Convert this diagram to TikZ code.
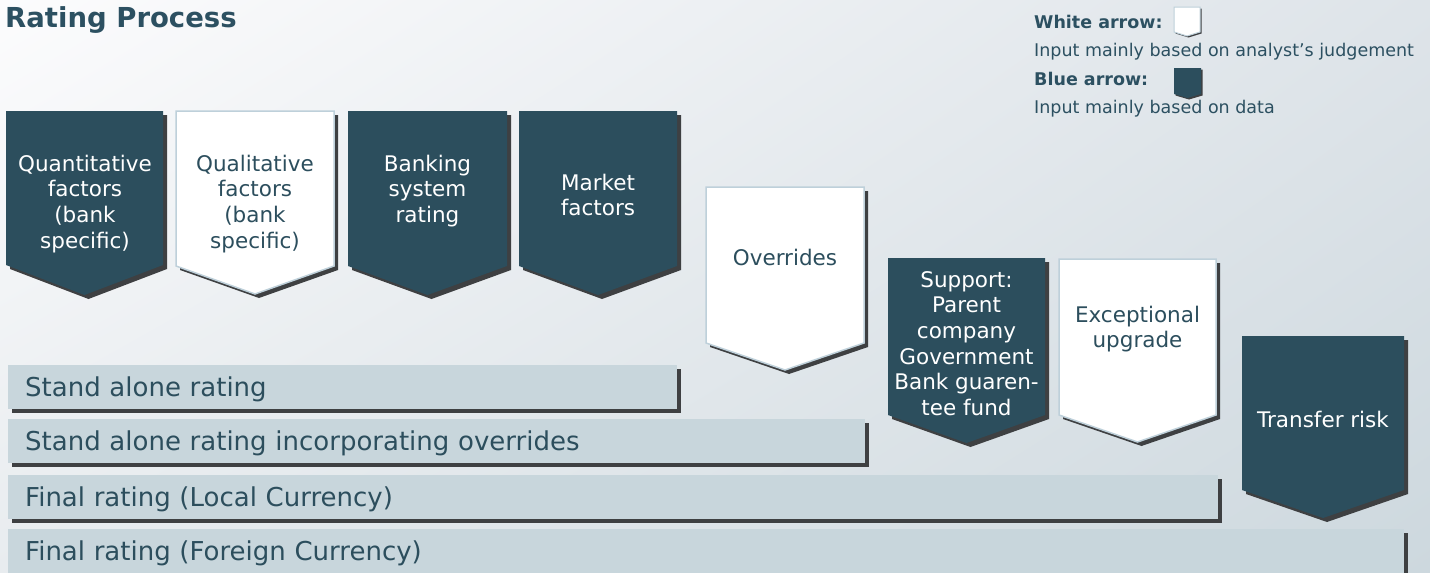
\documentclass[tikz,border=0pt]{standalone}
\usepackage{fontspec}
\setmainfont{DejaVu Sans}
\usetikzlibrary{shadows,shadings}

\definecolor{petrol}{RGB}{44,78,93}
\definecolor{petroltext}{RGB}{44,80,97}
\definecolor{edgeblue}{RGB}{190,208,218}
\definecolor{barfill}{RGB}{200,214,220}
\definecolor{shadowgrey}{RGB}{62,64,66}
\definecolor{bgtl}{RGB}{252,252,253}
\definecolor{bgtr}{RGB}{222,228,233}
\definecolor{bgbl}{RGB}{232,236,239}
\definecolor{bgbr}{RGB}{205,216,222}

\tikzset{
  castshadow/.style = {drop shadow={shadow xshift=#1, shadow yshift=-#1, opacity=1, fill=shadowgrey}},
  castshadow/.default = 4pt,
  bluearrow/.style = {fill=petrol},
  whitearrow/.style = {fill=white, draw=edgeblue, line width=1.5pt},
  arrowtext/.style = {anchor=base, inner sep=0pt, font=\fontsize{21.5}{25.7}\selectfont},
  ratingbar/.style = {anchor=north west, fill=barfill, castshadow, minimum height=44pt,
    inner xsep=17pt, inner ysep=0pt, text width=#1, align=left, text height=20pt,
    text depth=1pt, text=petrol, font=\fontsize{26}{31}\selectfont},
  legendtext/.style = {anchor=base west, inner sep=0pt, text=petroltext, font=\fontsize{17.5}{21}\selectfont},
  legendhead/.style = {legendtext, font=\fontsize{17.5}{21}\selectfont\bfseries}
}

% pentagon pointing down: style, left, right, top, shoulder, tip
\newcommand{\chevron}[6]{%
  \path[#1] (#2,#4) -- (#3,#4) -- (#3,#5) -- ({(#2+#3)/2},#6) -- (#2,#5) -- cycle;}
% centred lines, baseline on the first one
\newcommand{\arrowlines}[1]{\begin{tabular}[t]{@{}c@{}}#1\end{tabular}}

\begin{document}
\begin{tikzpicture}[x=1pt, y=-1pt]
  \useasboundingbox (0,0) rectangle (1430,573);
  \shade[upper left=bgtl, upper right=bgtr, lower left=bgbl, lower right=bgbr] (0,0) rectangle (1430,573);

  \node[anchor=base west, inner sep=0pt, text=petroltext, font=\fontsize{27.5}{33}\selectfont\bfseries] (title) at (5,27) {Rating Process};

  % key
  \node[legendhead] (whitekey) at (1034,28) {White arrow:};
  \chevron{whitearrow, line width=1pt, castshadow=1.5pt}{1174}{1200}{7}{32}{36}
  \node[legendtext] (whitenote) at (1034,56.5) {Input mainly based on analyst’s judgement};
  \node[legendhead] (bluekey) at (1034,85) {Blue arrow:};
  \chevron{bluearrow, castshadow=1.5pt}{1174}{1201}{68}{94}{98}
  \node[legendtext] (bluenote) at (1034,113.5) {Input mainly based on data};

  % inputs
  \chevron{bluearrow, castshadow}{6}{163}{111}{265}{295}
  \node[arrowtext, text=white] (quant) at (85,171) {\arrowlines{Quantitative\\ factors\\ (bank\\ specific)}};
  \chevron{whitearrow, castshadow}{176}{334}{111}{266}{294}
  \node[arrowtext, text=petrol] (qual) at (255,171) {\arrowlines{Qualitative\\ factors\\ (bank\\ specific)}};
  \chevron{bluearrow, castshadow}{348}{507}{111}{266}{295}
  \node[arrowtext, text=white] (banking) at (427.5,171) {\arrowlines{Banking\\ system\\ rating}};
  \chevron{bluearrow, castshadow}{519}{677}{111}{266}{295}
  \node[arrowtext, text=white] (market) at (598,190) {\arrowlines{Market\\ factors}};
  \chevron{whitearrow, castshadow}{706}{864}{187}{343}{370}
  \node[arrowtext, text=petrol] (overrides) at (785,265) {Overrides};
  \chevron{bluearrow, castshadow}{888}{1045}{258}{415}{443}
  \node[arrowtext, text=white] (support) at (966.5,287) {\arrowlines{Support:\\ Parent\\ company\\ Government\\ Bank guaren-\\ tee fund}};
  \chevron{whitearrow, castshadow}{1059}{1216}{259}{415}{442}
  \node[arrowtext, text=petrol] (upgrade) at (1137.5,322) {\arrowlines{Exceptional\\ upgrade}};
  \chevron{bluearrow, castshadow}{1242}{1404}{336}{490}{518}
  \node[arrowtext, text=white] (transfer) at (1323,427) {Transfer risk};

  % rating levels
  \node[ratingbar=635pt] (standalone) at (8,365) {Stand alone rating};
  \node[ratingbar=823pt] (withoverrides) at (8,419) {Stand alone rating incorporating overrides};
  \node[ratingbar=1176pt] (localfinal) at (8,475) {Final rating (Local Currency)};
  \node[ratingbar=1362pt] (foreignfinal) at (8,529) {Final rating (Foreign Currency)};
\end{tikzpicture}
\end{document}
